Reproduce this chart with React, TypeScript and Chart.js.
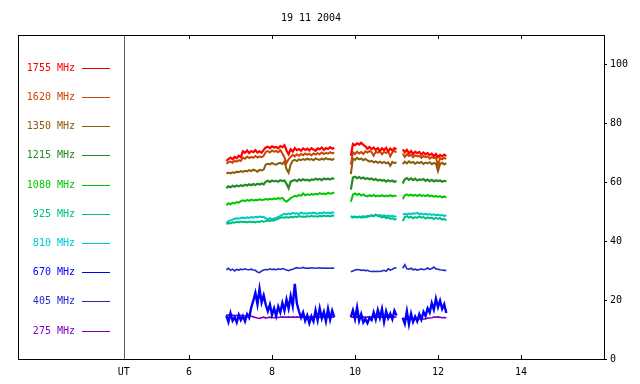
import React, { useEffect, useRef } from "react";
import { Chart, registerables } from "chart.js";

Chart.register(...registerables);

const TITLE = "19 11 2004";
const FONT = "'DejaVu Sans Mono', 'Liberation Mono', monospace";

// Time axis (UT hours)
const X_MIN = 1.88;
const X_MAX = 16;
const UT_POS = 4.43;
const X_TICK_VALUES = [4.43, 6, 8, 10, 12, 14];
const X_TICK_LABELS = ["UT", "6", "8", "10", "12", "14"];
const Y_TICK_VALUES = [0, 20, 40, 60, 80, 100];

// Sample times of the three observing segments
const T_A = [6.90, 6.95, 7.00, 7.05, 7.10, 7.15, 7.20, 7.25, 7.30, 7.35,
  7.40, 7.45, 7.50, 7.55, 7.60, 7.65, 7.70, 7.75, 7.80, 7.85,
  7.90, 7.95, 8.00, 8.05, 8.10, 8.15, 8.20, 8.25, 8.30, 8.35,
  8.40, 8.45, 8.50, 8.55, 8.60, 8.65, 8.70, 8.75, 8.80, 8.85,
  8.90, 8.95, 9.00, 9.05, 9.10, 9.15, 9.20, 9.25, 9.30, 9.35,
  9.40, 9.45, 9.50];
const T_B = [9.90, 9.95, 10.00, 10.05, 10.10, 10.15, 10.20, 10.25, 10.30, 10.35,
  10.40, 10.45, 10.50, 10.55, 10.60, 10.65, 10.70, 10.75, 10.80, 10.85,
  10.90, 10.95, 11.00];
const T_C = [11.15, 11.20, 11.25, 11.30, 11.35, 11.40, 11.45, 11.50, 11.55, 11.60,
  11.65, 11.70, 11.75, 11.80, 11.85, 11.90, 11.95, 12.00, 12.05, 12.10,
  12.15, 12.20];

// 1755 MHz
const F1755_A = [67.2, 67.9, 68.4, 67.8, 68.6, 68.2, 69.0, 68.5, 70.5, 70.0,
  70.8, 69.9, 70.6, 70.2, 70.9, 70.1, 70.5, 70.0, 71.0, 71.8,
  72.1, 71.6, 72.2, 71.8, 72.0, 71.5, 72.3, 71.9, 72.6, 70.8,
  69.5, 71.2, 70.4, 71.6, 70.9, 71.3, 70.7, 71.5, 71.0, 71.4,
  70.8, 71.6, 71.1, 70.7, 71.5, 71.2, 71.8, 71.0, 71.6, 71.3,
  71.9, 71.4, 71.7];
const F1755_B = [69.0, 73.0, 72.6, 73.2, 72.8, 73.4, 72.7, 72.2, 71.4, 72.0,
  71.2, 71.8, 71.0, 71.6, 70.6, 71.5, 70.9, 71.7, 70.5, 71.4,
  70.8, 71.6, 71.2];
const F1755_C = [71.2, 70.2, 71.0, 69.8, 70.6, 69.6, 70.4, 69.9, 70.3, 69.4,
  70.1, 69.5, 69.9, 69.2, 69.7, 68.9, 69.6, 68.6, 69.3, 68.8,
  69.4, 68.9];

// 1620 MHz
const F1620_A = [66.3, 66.8, 67.0, 66.6, 67.3, 67.0, 67.5, 67.2, 68.4, 68.0,
  68.7, 68.2, 68.6, 68.3, 68.9, 68.4, 68.7, 68.5, 69.0, 70.3,
  70.6, 70.1, 70.8, 70.4, 70.6, 70.2, 70.9, 69.8, 68.5, 66.5,
  67.8, 68.6, 69.3, 68.8, 69.5, 69.0, 69.6, 69.2, 69.8, 69.3,
  69.7, 69.1, 69.8, 69.4, 69.9, 69.5, 70.1, 69.6, 70.0, 69.7,
  70.2, 69.8, 70.1];
const F1620_B = [66.0, 70.2, 69.6, 70.4, 69.8, 70.3, 69.6, 70.5, 70.1, 70.6,
  70.2, 69.0, 70.4, 70.0, 70.6, 69.5, 70.3, 69.9, 70.5, 68.8,
  70.2, 70.6, 70.1];
const F1620_C = [69.8, 68.6, 69.5, 68.9, 69.3, 68.5, 69.2, 68.8, 69.0, 68.3,
  68.9, 68.5, 68.8, 68.0, 68.6, 68.2, 68.5, 65.5, 68.2, 67.8,
  68.3, 67.9];

// 1350 MHz
const F1350_A = [62.9, 63.3, 63.0, 63.4, 63.2, 63.6, 63.4, 63.8, 63.5, 63.9,
  63.7, 64.1, 63.8, 64.3, 64.0, 63.6, 64.2, 64.0, 64.3, 66.0,
  66.3, 66.1, 66.5, 66.2, 66.0, 66.4, 66.6, 66.2, 67.0, 64.5,
  63.2, 66.0, 67.3, 67.6, 67.2, 67.8, 67.5, 67.9, 67.6, 68.0,
  67.7, 67.9, 67.5, 68.1, 67.8, 67.6, 68.0, 67.7, 68.2, 67.8,
  67.9, 67.6, 68.0];
const F1350_B = [62.8, 68.0, 67.6, 68.3, 67.8, 68.1, 67.5, 67.9, 67.4, 67.0,
  67.3, 66.8, 67.1, 66.6, 67.0, 66.5, 66.9, 66.4, 66.8, 65.6,
  66.9, 66.5, 66.8];
const F1350_C = [66.2, 67.0, 66.4, 67.1, 66.6, 66.9, 66.3, 66.8, 66.5, 66.9,
  66.2, 66.7, 66.4, 66.8, 66.1, 66.6, 66.3, 63.8, 66.2, 66.6,
  66.0, 66.5];

// 1215 MHz
const F1215_A = [58.0, 58.6, 58.3, 58.8, 58.5, 58.9, 58.6, 59.0, 58.7, 59.2,
  58.9, 59.3, 59.0, 59.4, 59.1, 59.5, 59.2, 59.6, 59.3, 60.2,
  60.5, 60.1, 60.6, 60.3, 60.5, 60.2, 60.7, 60.4, 60.6, 59.5,
  58.0, 60.2, 60.5, 60.8, 60.4, 60.9, 60.6, 61.0, 60.7, 60.9,
  60.5, 61.0, 60.8, 61.2, 60.9, 61.1, 60.7, 61.3, 61.0, 61.2,
  60.9, 61.4, 61.1];
const F1215_B = [57.5, 61.6, 61.9, 61.4, 61.8, 61.3, 61.6, 61.1, 61.4, 61.0,
  61.3, 60.8, 61.1, 60.6, 60.9, 60.5, 60.8, 60.2, 60.7, 60.3,
  60.6, 60.1, 60.5];
const F1215_C = [59.6, 61.0, 61.4, 60.8, 61.3, 60.7, 61.2, 60.6, 61.0, 60.8,
  61.1, 60.5, 60.9, 60.4, 60.8, 60.3, 60.7, 60.4, 60.6, 60.2,
  60.5, 60.3];

// 1080 MHz
const F1080_A = [52.2, 52.9, 52.5, 53.0, 52.8, 53.3, 53.1, 53.6, 53.9, 53.6,
  54.0, 53.7, 54.1, 53.8, 54.0, 53.9, 54.2, 54.0, 54.1, 54.3,
  54.1, 54.4, 54.2, 54.5, 54.3, 54.6, 54.4, 54.7, 53.9, 53.4,
  54.0, 54.6, 55.0, 55.4, 55.2, 55.7, 55.4, 56.2, 55.6, 55.9,
  55.7, 56.0, 55.8, 56.1, 55.9, 56.3, 56.0, 56.2, 56.0, 56.4,
  56.1, 56.3, 56.5];
const F1080_B = [53.4, 55.8, 56.2, 55.7, 56.1, 55.5, 55.9, 55.4, 55.2, 55.6,
  55.3, 55.7, 55.2, 55.5, 55.3, 55.6, 55.2, 55.5, 55.3, 55.6,
  55.2, 55.5, 55.3];
const F1080_C = [54.3, 55.6, 55.9, 55.5, 55.8, 55.4, 55.7, 55.3, 55.8, 55.4,
  55.6, 55.3, 55.7, 55.2, 55.5, 55.1, 55.4, 55.0, 55.3, 54.9,
  55.2, 54.8];

// 925 MHz
const F925_A = [45.8, 46.2, 46.0, 46.4, 46.3, 46.6, 46.4, 46.7, 46.5, 46.6,
  46.4, 46.7, 46.5, 46.6, 46.4, 46.7, 46.5, 46.8, 46.6, 46.8,
  47.0, 46.9, 47.1, 47.0, 47.3, 47.6, 47.9, 48.1, 48.0, 48.2,
  48.0, 48.3, 48.1, 48.4, 48.2, 48.5, 48.3, 48.4, 48.2, 48.5,
  48.3, 48.6, 48.4, 48.5, 48.3, 48.6, 48.4, 48.7, 48.5, 48.6,
  48.4, 48.7, 48.6];
const F925_B = [48.5, 48.2, 48.4, 48.1, 48.3, 48.0, 48.2, 48.1, 48.3, 48.6,
  48.8, 48.5, 48.9, 48.6, 48.4, 48.1, 48.3, 47.8, 48.0, 47.6,
  47.8, 47.4, 47.5];
const F925_C = [46.8, 48.2, 48.5, 48.0, 48.3, 47.8, 48.2, 47.9, 48.4, 48.0,
  48.2, 47.7, 48.1, 47.8, 48.0, 47.5, 47.9, 47.6, 47.8, 47.3,
  47.6, 47.0];

// 810 MHz
const F810_A = [46.2, 46.8, 47.0, 47.3, 47.6, 47.8, 47.6, 47.9, 48.0, 47.8,
  48.1, 47.9, 48.2, 48.0, 48.3, 48.1, 48.4, 48.2, 48.3, 47.7,
  47.5, 47.8, 47.5, 47.7, 47.9, 48.2, 48.6, 49.0, 49.3, 49.1,
  49.4, 49.2, 49.6, 49.3, 49.5, 49.2, 49.7, 49.4, 49.5, 49.3,
  49.6, 49.4, 49.7, 49.5, 49.3, 49.6, 49.4, 49.8, 49.5, 49.7,
  49.4, 49.8, 49.6];
const F810_B = [48.2, 48.0, 48.3, 48.1, 48.4, 48.2, 48.5, 48.3, 48.6, 48.4,
  48.8, 48.5, 49.0, 48.7, 48.9, 48.6, 48.8, 48.5, 48.7, 48.4,
  48.6, 48.3, 48.5];
const F810_C = [49.0, 49.3, 49.1, 49.4, 49.2, 49.5, 49.3, 49.6, 49.2, 49.4,
  49.1, 49.3, 49.0, 49.2, 48.9, 49.1, 48.8, 49.0, 48.7, 48.9,
  48.6, 48.8];

// 670 MHz
const F670_A = [14.8, 12.6, 15.6, 13.0, 14.2, 12.4, 15.0, 13.2, 14.6, 12.8,
  15.2, 14.0, 17.5, 19.8, 22.5, 18.6, 23.8, 19.2, 21.6, 18.4,
  16.2, 18.5, 15.0, 17.2, 14.6, 17.8, 15.8, 19.0, 16.4, 20.2,
  17.2, 21.4, 18.0, 25.5, 18.8, 16.2, 14.0, 15.8, 13.0, 14.8,
  12.2, 14.5, 12.8, 16.5, 13.2, 17.2, 13.8, 16.0, 12.8, 17.0,
  13.4, 16.4, 14.2];
const F670_B = [14.2, 16.5, 13.6, 17.5, 13.0, 15.2, 12.4, 13.6, 12.2, 14.0,
  13.2, 15.8, 13.4, 16.6, 14.0, 17.0, 12.6, 16.2, 13.8, 15.4,
  13.5, 16.4, 14.8];
const F670_C = [14.0, 12.0, 16.2, 11.8, 15.4, 12.6, 14.4, 12.8, 15.2, 13.4,
  16.0, 14.6, 17.2, 15.8, 19.0, 16.8, 20.5, 17.6, 19.8, 17.0,
  18.6, 15.6];

// 405 MHz
const F405_A = [30.3, 30.8, 30.1, 30.5, 29.9, 30.4, 30.2, 30.5, 30.3, 30.6,
  30.4, 30.3, 30.5, 30.2, 30.1, 29.5, 29.3, 29.9, 30.2, 30.4,
  30.3, 30.6, 30.4, 30.5, 30.3, 30.6, 30.4, 30.7, 30.5, 30.2,
  30.0, 30.3, 30.5, 30.8, 31.0, 30.8, 30.9, 31.1, 30.8, 30.9,
  30.8, 31.0, 30.9, 30.8, 30.9, 31.0, 30.8, 30.9, 30.8, 30.9,
  30.8, 30.9, 30.8];
const F405_B = [29.6, 29.9, 30.2, 30.4, 30.3, 30.1, 30.2, 30.0, 30.1, 29.8,
  29.7, 29.8, 29.7, 29.8, 29.7, 29.9, 30.1, 29.8, 30.6, 30.2,
  30.5, 30.9, 31.0];
const F405_C = [30.8, 32.0, 30.6, 30.5, 30.8, 30.3, 30.5, 30.2, 30.4, 30.6,
  30.3, 30.5, 30.9, 30.4, 30.7, 31.2, 30.6, 30.5, 30.3, 30.2,
  30.1, 30.1];

// 275 MHz
const F275_A = [15.0, 14.9, 14.8, 14.9, 14.7, 14.8, 14.7, 14.8, 14.7, 14.6,
  14.7, 14.6, 14.5, 14.3, 14.1, 13.9, 13.8, 14.0, 14.2, 13.9,
  14.1, 14.2, 14.1, 14.0, 14.2, 14.1, 14.2, 14.3, 14.2, 14.2,
  14.3, 14.2, 14.3, 14.2, 14.3, 14.2, 14.2, 14.3, 14.2, 14.2,
  14.3, 14.2, 14.2, 14.3, 14.2, 14.2, 14.3, 14.2, 14.2, 14.3,
  14.2, 14.2, 14.3];
const F275_B = [14.3, 14.2, 14.2, 14.3, 14.2, 14.2, 14.3, 14.2, 14.2, 14.2,
  14.3, 14.2, 14.2, 14.3, 14.2, 14.2, 14.3, 14.2, 14.2, 14.3,
  14.2, 14.2, 14.3];
const F275_C = [13.6, 13.5, 13.6, 13.5, 13.6, 13.6, 13.5, 13.6, 13.6, 13.5,
  13.6, 13.6, 13.9, 13.9, 14.0, 14.2, 14.2, 14.3, 14.2, 14.0,
  14.1, 14.0];

const LABELS = ["1755 MHz", "1620 MHz", "1350 MHz", "1215 MHz", "1080 MHz",
  "925 MHz", "810 MHz", "670 MHz", "405 MHz", "275 MHz"];
const COLORS = ["#ff0000", "#c84600", "#8c5a0a", "#228b22", "#00c800",
  "#00c080", "#00c8c8", "#0000ff", "#2828c8", "#8000c0"];
const WIDTHS = [2.2, 2, 2, 2.2, 2, 2, 2, 2.4, 1.6, 1.6];
const SERIES = [
  [F1755_A, F1755_B, F1755_C],
  [F1620_A, F1620_B, F1620_C],
  [F1350_A, F1350_B, F1350_C],
  [F1215_A, F1215_B, F1215_C],
  [F1080_A, F1080_B, F1080_C],
  [F925_A, F925_B, F925_C],
  [F810_A, F810_B, F810_C],
  [F670_A, F670_B, F670_C],
  [F405_A, F405_B, F405_C],
  [F275_A, F275_B, F275_C],
];
const SEG_TIMES = [T_A, T_B, T_C];

function buildPoints(segs: number[][]) {
  const pts: { x: number; y: number | null }[] = [];
  segs.forEach((vals, s) => {
    const times = SEG_TIMES[s];
    vals.forEach((v, i) => {
      if (times[i] !== undefined) pts.push({ x: times[i], y: v });
    });
    pts.push({ x: times[times.length - 1], y: null });
  });
  return pts;
}

const framePlugin = {
  id: "frameAndLegend",
  afterDatasetsDraw(chart: any) {
    const { ctx, chartArea, scales } = chart;
    const xs = scales.x;
    ctx.save();
    // separator line at UT
    const ux = Math.round(xs.getPixelForValue(UT_POS)) + 0.5;
    ctx.strokeStyle = "#606060";
    ctx.lineWidth = 1;
    ctx.beginPath();
    ctx.moveTo(ux, chartArea.top);
    ctx.lineTo(ux, chartArea.bottom);
    ctx.stroke();
    // frame
    ctx.strokeStyle = "#000";
    ctx.strokeRect(chartArea.left + 0.5, chartArea.top + 0.5,
      chartArea.right - chartArea.left, chartArea.bottom - chartArea.top);
    // inward x ticks, top and bottom
    ctx.beginPath();
    X_TICK_VALUES.forEach((v) => {
      if (v === UT_POS) return;
      const px = Math.round(xs.getPixelForValue(v)) + 0.5;
      ctx.moveTo(px, chartArea.bottom);
      ctx.lineTo(px, chartArea.bottom - 4);
      ctx.moveTo(px, chartArea.top);
      ctx.lineTo(px, chartArea.top + 4);
    });
    ctx.stroke();
    // legend
    ctx.font = "10px " + FONT;
    ctx.textAlign = "right";
    ctx.textBaseline = "middle";
    chart.data.datasets.forEach((ds: any, i: number) => {
      const y = Math.round(chartArea.top + 32.7 + i * 29.2) + 0.5;
      ctx.fillStyle = ds.borderColor;
      ctx.fillText(ds.label, chartArea.left + 57, y);
      ctx.strokeStyle = ds.borderColor;
      ctx.beginPath();
      ctx.moveTo(chartArea.left + 64, y);
      ctx.lineTo(chartArea.left + 92, y);
      ctx.stroke();
    });
    ctx.restore();
  },
};

export default function App() {
  const ref = useRef<HTMLCanvasElement | null>(null);
  useEffect(() => {
    if (!ref.current) return;
    const chart = new Chart(ref.current, {
      type: "line",
      data: {
        datasets: LABELS.map((label, i) => ({
          label,
          data: buildPoints(SERIES[i]),
          borderColor: COLORS[i],
          backgroundColor: COLORS[i],
          borderWidth: WIDTHS[i],
          pointRadius: 0,
          tension: 0,
          spanGaps: false,
        })),
      },
      options: {
        animation: false,
        responsive: false,
        events: [],
        layout: { padding: { left: 18, right: 0, top: 0, bottom: 0 } },
        plugins: {
          legend: { display: false },
          tooltip: { enabled: false },
          title: {
            display: true,
            text: TITLE,
            fullSize: false,
            color: "#000",
            font: { family: FONT, size: 10, weight: "normal" },
            padding: { top: 12, bottom: 11 },
          },
        },
        scales: {
          x: {
            type: "linear",
            position: "bottom",
            min: X_MIN,
            max: X_MAX,
            afterBuildTicks: (s: any) => {
              s.ticks = X_TICK_VALUES.map((v) => ({ value: v }));
            },
            afterFit: (s: any) => {
              s.height = 25;
            },
            grid: { display: false, drawTicks: false },
            border: { display: true, color: "#000", width: 1 },
            ticks: {
              color: "#000",
              font: { family: FONT, size: 10 },
              padding: 7,
              maxRotation: 0,
              autoSkip: false,
              callback: (v: any) => {
                const idx = X_TICK_VALUES.indexOf(Number(v));
                return idx >= 0 ? X_TICK_LABELS[idx] : "";
              },
            },
          },
          y: {
            type: "linear",
            position: "right",
            min: 0,
            max: 110,
            afterBuildTicks: (s: any) => {
              s.ticks = Y_TICK_VALUES.map((v) => ({ value: v }));
            },
            afterFit: (s: any) => {
              s.width = 36;
            },
            grid: { display: true, drawOnChartArea: false, drawTicks: true, tickLength: 3, color: "#000" },
            border: { display: true, color: "#000", width: 1 },
            ticks: {
              color: "#000",
              font: { family: FONT, size: 10 },
              padding: 3,
              autoSkip: false,
            },
          },
        },
      },
      plugins: [framePlugin],
    });
    return () => chart.destroy();
  }, []);
  return (
    <div style={{ position: "fixed", left: 0, top: 0, width: 640, height: 384, background: "#fff" }}>
      <canvas ref={ref} width={640} height={384} style={{ display: "block" }} />
    </div>
  );
}
